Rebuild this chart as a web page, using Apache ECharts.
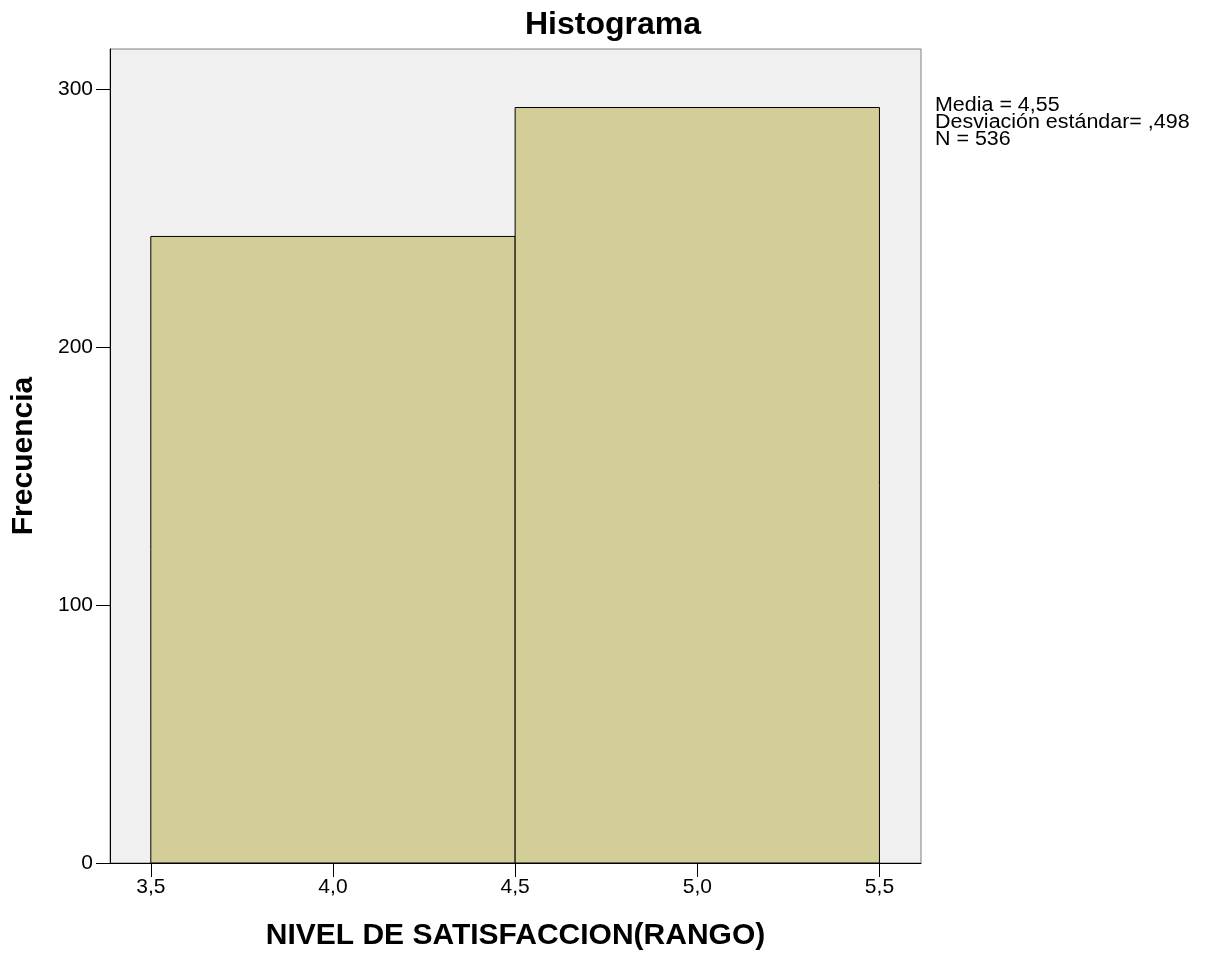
<!DOCTYPE html>
<html><head><meta charset="utf-8">
<script src="https://cdn.jsdelivr.net/npm/echarts@6/dist/echarts.min.js"></script>
<style>html,body{margin:0;padding:0;background:#fff}#c{width:1208px;height:956px}</style>
</head><body><div id="c"></div>
<script>
const binStarts = [3.5, 4.5];
const binEnds = [4.5, 5.5];
const frequencies = [243, 293];
const xTicks = [3.5, 4.0, 4.5, 5.0, 5.5];
const yTicks = [0, 100, 200, 300];
const statsLines = ['Media = 4,55', 'Desviación estándar= ,498', 'N = 536'];

const data = binStarts.map((s, i) => [s, binEnds[i], frequencies[i]]);
const chart = echarts.init(document.getElementById('c'));
const font = '"Liberation Sans", Arial, sans-serif';
chart.setOption({
  animation: false,
  backgroundColor: '#fff',
  title: {
    text: 'Histograma', left: 608, top: 4, textAlign: 'center',
    textStyle: { fontFamily: font, fontSize: 32, fontWeight: 'bold', color: '#000' }
  },
  grid: { left: 110, top: 49, right: 287, bottom: 93, show: true,
          backgroundColor: '#f0f0f0', borderColor: '#808080', borderWidth: 1 },
  xAxis: {
    type: 'value', min: 3.388, max: 5.614,
    name: 'NIVEL DE SATISFACCION(RANGO)', nameLocation: 'middle', nameGap: 58,
    nameTextStyle: { fontFamily: font, fontSize: 30, fontWeight: 'bold', color: '#000' },
    axisLine: { show: true, lineStyle: { color: '#000', width: 1 } },
    axisTick: { show: true, length: 14, customValues: xTicks, lineStyle: { color: '#000' } },
    axisLabel: { customValues: xTicks, fontFamily: font, fontSize: 21, color: '#000', margin: 14,
                 formatter: v => v.toFixed(1).replace('.', ',') },
    splitLine: { show: false }
  },
  yAxis: {
    type: 'value', min: 0, max: 315.7,
    name: 'Frecuencia', nameLocation: 'middle', nameGap: 71,
    nameTextStyle: { fontFamily: font, fontSize: 30, fontWeight: 'bold', color: '#000' },
    axisLine: { show: true, lineStyle: { color: '#000', width: 1 } },
    axisTick: { show: true, length: 14, customValues: yTicks, lineStyle: { color: '#000' } },
    axisLabel: { customValues: yTicks, fontFamily: font, fontSize: 21, color: '#000', margin: 17 },
    splitLine: { show: false }
  },
  graphic: [{
    type: 'text', x: 935, y: 97, scaleX: 1.1,
    style: { text: statsLines.join('\n'), font: '19.5px ' + font, fill: '#000', lineHeight: 17 }
  }],
  series: [{
    type: 'custom',
    data: data,
    encode: { x: [0, 1], y: 2 },
    renderItem: function (params, api) {
      const p0 = api.coord([api.value(0), 0]);
      const p1 = api.coord([api.value(1), api.value(2)]);
      return {
        type: 'rect',
        shape: { x: p0[0], y: p1[1], width: p1[0] - p0[0], height: p0[1] - p1[1] },
        style: { fill: '#d3ce98', stroke: '#000', lineWidth: 1 }
      };
    }
  }]
});
</script></body></html>
